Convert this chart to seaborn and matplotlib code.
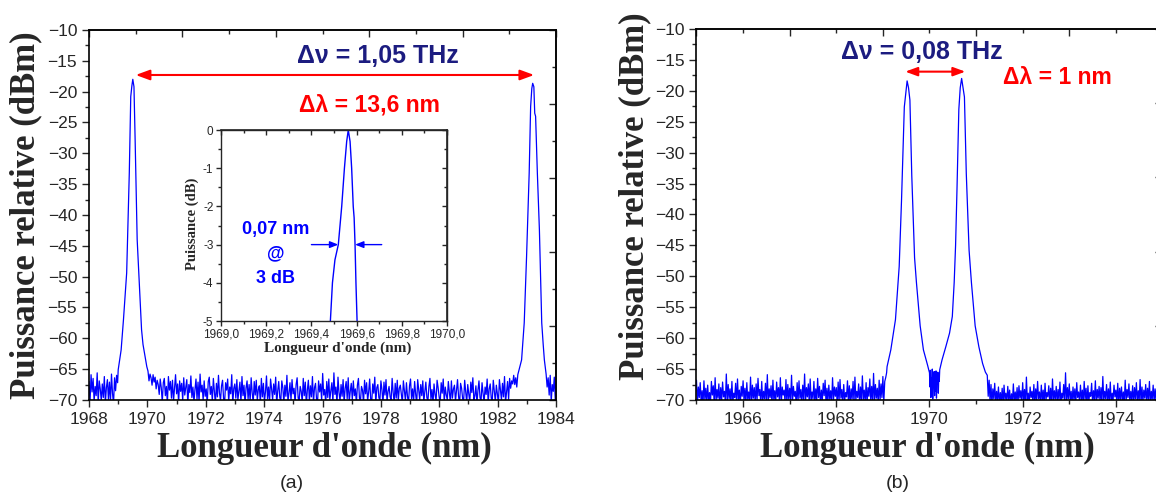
import numpy as np
import pandas as pd
import matplotlib
matplotlib.use("Agg")
import matplotlib.pyplot as plt
import seaborn as sns
from matplotlib.ticker import MultipleLocator, FixedLocator, FuncFormatter

# ---------------- data ----------------
# Panel (a): two lines 13.6 nm apart
a_noise_left = [-67.0, -70.4, -65.9, -68.7, -66.5, -70.2, -67.8, -69.3, -65.6, -70.6,
                -66.9, -68.2, -70.1, -67.4, -69.6, -66.2, -70.5, -68.0, -66.7, -69.9,
                -67.1, -70.3, -65.8, -68.9, -70.7, -66.4, -68.5, -66.0, -67.2]   # 1968.00 .. step 0.035
a_peak1_x = [1969.00, 1969.10, 1969.18, 1969.29, 1969.38, 1969.43, 1969.47, 1969.50,
             1969.54, 1969.58, 1969.65, 1969.75, 1969.80, 1969.85, 1969.90, 1969.98]
a_peak1_y = [-65.1, -61.9, -57.0, -49.4, -33.2, -20.8, -19.0, -18.0,
             -19.2, -27.8, -44.0, -53.8, -58.6, -61.0, -62.4, -64.6]
a_noise_mid = [
    -65.3, -66.9, -65.8, -66.4, -67.6, -65.9, -67.1, -66.3, -68.2, -66.8, -67.5, -69.1, -66.6, -68.0, -70.4,
    -67.2, -66.5, -69.3, -67.8, -70.6, -66.2, -68.4, -67.0, -69.7, -66.8, -70.2, -68.1, -65.9, -69.0, -67.4,
    -70.5, -66.9, -68.6, -67.3, -70.1, -66.4, -69.2, -68.0, -66.7, -70.7, -67.5, -68.8, -66.1, -69.6, -67.9,
    -70.3, -68.3, -66.6, -69.9, -67.1, -70.4, -65.8, -68.7, -67.6, -70.0, -66.9, -69.4, -68.2, -70.6, -67.0,
    -66.3, -69.1, -67.8, -70.2, -66.5, -68.5, -70.7, -67.3, -69.5, -66.0, -68.9, -70.1, -67.7, -66.8, -69.8,
    -70.5, -67.2, -68.4, -66.6, -70.3, -67.9, -69.0, -65.9, -70.6, -68.1, -67.4, -69.7, -66.7, -70.0, -68.6,
    -67.1, -70.4, -66.2, -69.3, -67.6, -70.8, -68.0, -66.9, -69.9, -67.5, -70.2, -66.4, -68.8, -70.5, -67.0,
    -69.2, -66.8, -70.1, -68.3, -67.7, -70.6, -66.5, -69.5, -67.3, -70.3, -68.7, -66.1, -69.8, -67.9, -70.4,
    -66.6, -68.2, -70.0, -67.4, -69.1, -66.3, -70.7, -68.5, -67.0, -69.6, -70.2, -66.9, -68.0, -70.5, -67.6,
    -69.4, -66.0, -70.3, -68.9, -67.2, -70.1, -66.7, -69.0, -68.1, -70.6, -67.5, -66.4, -69.7, -70.0, -67.8,
    -68.6, -70.4, -66.5, -69.3, -67.1, -70.8, -68.4, -66.8, -70.2, -67.7, -69.5, -66.2, -70.5, -68.0, -67.3,
    -69.9, -70.3, -66.9, -68.7, -67.4, -70.1, -65.7, -69.2, -68.3, -70.6, -67.0, -69.6, -66.6, -70.0, -68.5,
    -67.2, -70.4, -65.6, -69.1, -67.9, -70.7, -66.3, -68.8, -70.2, -67.5, -69.4, -66.7, -70.5, -68.1, -67.0,
    -69.8, -66.4, -70.3, -68.6, -67.3, -70.0, -66.9, -69.3, -68.2, -70.6, -67.6, -66.5, -69.7, -70.1, -67.8,
    -68.4, -70.5, -66.8, -69.0, -67.2, -70.2, -68.7, -66.6, -69.9, -70.4, -67.4, -68.9, -66.3, -70.6, -68.0,
    -67.5, -69.6, -70.1, -66.9, -68.3, -70.7, -67.1, -69.2, -66.7, -70.3, -68.6, -67.8, -69.5, -70.0, -66.5,
    -68.8, -70.4, -67.3, -69.7, -66.8, -70.2, -68.1, -67.6, -69.1, -70.5, -66.9, -68.5, -70.1, -67.2, -69.4,
    -70.6, -67.7, -66.6, -69.8, -68.2, -70.3, -67.0, -69.0, -70.7, -66.7, -68.4, -70.0, -67.5, -69.3, -66.9,
    -70.4, -68.6, -67.1, -69.6, -70.2, -67.8, -66.5, -69.9, -68.3, -70.5, -67.4, -69.1, -70.1, -66.8, -68.0,
    -69.5, -70.6, -67.2, -68.9, -66.6, -70.3, -67.9, -69.2, -70.0, -67.0, -68.7, -70.4, -66.9, -69.7, -68.2,
    -67.6, -70.2, -68.5, -66.7, -69.4, -70.7, -67.3, -68.1, -69.8, -70.1, -66.8, -68.6, -70.5, -67.5, -69.0,
    -70.3, -67.1, -68.8, -66.4, -70.0, -69.3, -67.7, -70.6, -68.4, -66.9, -69.6, -70.2, -67.2, -68.9, -70.4,
    -67.9, -69.1, -66.6, -70.5, -68.2, -67.4, -69.7, -70.1, -66.8, -68.5, -70.3, -67.6, -69.0, -70.6, -66.7,
    -68.3, -70.0, -67.3, -69.5, -66.2, -70.4, -68.7, -67.0, -69.9, -66.5, -68.1, -66.9, -67.4, -66.0, -67.5,
    -66.4, -67.9, -65.9]                                                  # 1970.02 .. step 0.035
a_peak2_x = [1982.74, 1982.82, 1982.91, 1982.99, 1983.08, 1983.13, 1983.17, 1983.20,
             1983.24, 1983.27, 1983.30, 1983.36, 1983.43, 1983.51, 1983.56, 1983.60]
a_peak2_y = [-65.0, -63.5, -57.5, -46.8, -33.2, -22.4, -19.5, -18.65,
             -19.2, -23.5, -24.0, -33.2, -42.4, -57.5, -61.0, -63.5]
a_noise_right = [-65.8, -67.9, -66.4, -69.2, -66.0, -70.3, -67.5, -68.6, -66.3, -70.1, -67.2]  # 1983.66 .. step 0.035

# Inset: zoom on the first line (relative power, dB)
inset_x = [1969.482, 1969.493, 1969.504, 1969.519, 1969.534, 1969.546, 1969.556, 1969.563,
           1969.571, 1969.578, 1969.585, 1969.589, 1969.593, 1969.597, 1969.603]
inset_y = [-5.2, -4.0, -3.4, -3.0, -2.0, -1.0, -0.3, 0.0,
           -0.3, -1.0, -2.0, -2.3, -3.0, -4.0, -5.2]

# Panel (b): two lines 1 nm apart
b_noise_left = [
    -66.8, -70.5, -67.9, -69.6, -67.2, -70.3, -68.5, -70.7, -66.9, -69.9, -68.1, -70.4, -67.6, -70.1, -68.8,
    -70.6, -67.0, -69.2, -67.7, -70.5, -66.4, -70.2, -68.3, -69.7, -67.4, -70.8, -68.0, -70.1, -67.1, -69.5,
    -68.6, -70.4, -65.8, -70.2, -67.5, -69.8, -68.2, -70.6, -67.0, -70.3, -68.9, -69.6, -67.3, -70.5, -66.6,
    -70.0, -68.4, -70.7, -67.8, -69.4, -66.9, -70.2, -68.1, -70.5, -67.2, -69.9, -68.7, -70.3, -66.3, -70.6,
    -67.6, -69.7, -68.0, -70.4, -67.4, -70.1, -66.5, -69.3, -68.3, -70.6, -67.0, -70.2, -68.6, -69.8, -67.3,
    -70.5, -65.9, -70.3, -68.2, -69.6, -67.7, -70.7, -66.8, -70.0, -68.5, -70.4, -67.1, -69.5, -68.0, -70.2,
    -66.4, -70.6, -67.9, -69.2, -68.4, -70.3, -66.7, -70.5, -67.5, -69.9, -68.1, -70.1, -66.0, -70.4, -67.8,
    -69.4, -68.6, -70.7, -67.2, -70.2, -66.9, -69.7, -68.3, -70.5, -67.6, -70.0, -65.8, -70.3, -68.0, -69.5,
    -67.4, -70.6, -66.6, -70.1, -68.7, -69.8, -67.0, -70.4, -68.2, -70.2, -66.5, -69.6, -67.8, -70.5, -68.4,
    -70.1, -67.3, -69.3, -66.8, -70.6, -68.1, -70.3, -67.6, -69.9, -68.5, -70.4, -66.4, -70.0, -67.9, -69.4,
    -68.0, -70.7, -67.1, -70.2, -66.7, -69.7, -68.3, -70.5, -67.5, -70.1, -68.8, -69.5, -66.9, -70.3, -67.7,
    -70.6, -68.2, -69.8, -67.0, -70.4, -66.3, -70.0, -68.6, -69.6, -67.4, -70.5, -67.9, -70.2, -66.1, -69.9,
    -68.4, -70.3, -67.2, -70.6, -68.0, -69.4, -66.6, -70.1, -67.8, -70.4, -65.7, -70.2, -67.5, -69.7, -68.1,
    -70.5, -66.8, -70.0, -67.4, -69.6, -66.2, -70.3, -67.0, -66.4, -65.6]   # 1965.00 .. step 0.02
b_peak1_x = [1969.09, 1969.17, 1969.27, 1969.35, 1969.40, 1969.46, 1969.49, 1969.52,
             1969.55, 1969.58, 1969.62, 1969.68, 1969.72, 1969.80, 1969.87, 1969.96]
b_peak1_y = [-64.6, -61.9, -57.0, -48.4, -37.7, -22.6, -20.5, -18.4,
             -19.5, -21.5, -33.7, -47.0, -51.0, -58.0, -61.9, -64.4]
b_valley = [-65.6, -67.9, -65.2, -69.6, -66.4, -68.2, -65.0, -69.8, -66.7, -67.5, -65.4, -69.3,
            -66.1, -68.6, -65.3, -69.7, -66.8, -67.4, -65.5, -68.9, -66.2, -67.0, -65.1]  # 1970.00 .. step 0.01
b_peak2_x = [1970.27, 1970.35, 1970.43, 1970.49, 1970.53, 1970.56, 1970.59, 1970.63, 1970.66,
             1970.69, 1970.72, 1970.75, 1970.79, 1970.85, 1970.90, 1970.98, 1971.06, 1971.14, 1971.20]
b_peak2_y = [-63.5, -61.4, -59.2, -56.5, -51.0, -45.0, -36.0, -23.0, -19.5,
             -18.0, -19.5, -21.0, -33.4, -45.8, -51.0, -58.0, -61.4, -64.1, -65.5]
b_noise_right = [
    -66.0, -69.4, -66.8, -70.3, -67.5, -70.6, -68.2, -69.8, -67.3, -70.4, -68.6, -70.1, -67.9, -70.5, -68.8,
    -70.2, -68.1, -70.7, -67.6, -69.9, -68.9, -70.4, -67.8, -70.0, -68.4, -70.6, -69.0, -70.3, -67.4, -70.5,
    -68.7, -70.1, -68.0, -70.6, -67.7, -69.7, -68.5, -70.4, -67.2, -70.2, -68.3, -70.7, -66.3, -70.0, -68.9,
    -70.5, -67.9, -69.6, -68.6, -70.3, -67.5, -70.6, -68.2, -70.1, -67.0, -69.8, -68.7, -70.4, -67.6, -70.2,
    -68.4, -70.6, -67.3, -70.0, -68.8, -69.5, -67.7, -70.3, -68.1, -70.7, -66.6, -70.2, -68.5, -69.9, -67.8,
    -70.4, -68.3, -70.1, -67.1, -70.6, -68.9, -69.7, -67.5, -70.3, -65.6, -70.5, -68.0, -69.8, -67.4, -70.2,
    -68.6, -70.4, -67.9, -70.0, -68.2, -70.6, -67.2, -69.6, -68.7, -70.3, -67.6, -70.1, -68.4, -70.5, -67.0,
    -69.9, -68.1, -70.7, -67.7, -70.2, -68.8, -69.4, -67.3, -70.4, -68.5, -70.0, -66.9, -70.6, -68.3, -69.7,
    -67.8, -70.3, -68.0, -70.5, -66.2, -70.1, -68.6, -69.8, -67.5, -70.4, -68.2, -70.2, -67.1, -70.6, -68.9,
    -70.0, -67.6, -69.5, -68.4, -70.3, -67.3, -70.7, -68.1, -69.9, -67.9, -70.2, -68.7, -70.5, -66.8, -70.1,
    -68.3, -69.6, -67.4, -70.4, -68.6, -70.0, -67.7, -70.6, -68.0, -69.8, -67.2, -70.3, -68.5, -70.1, -66.7,
    -70.5, -67.9, -70.2, -68.4, -69.7, -67.5, -70.4, -68.1, -70.0, -67.0, -70.6, -68.6, -69.9, -67.6, -70.3,
    -68.2, -70.1, -67.3, -70.5, -68.8, -69.6, -66.9, -70.2, -67.8]      # 1971.24 .. step 0.02

# ---------------- assemble spectra ----------------
def grid(start, step, vals):
    return list(start + step * np.arange(len(vals)))

a_x = (grid(1968.00, 0.035, a_noise_left) + a_peak1_x + grid(1970.02, 0.035, a_noise_mid)
       + a_peak2_x + grid(1983.66, 0.035, a_noise_right))
a_y = a_noise_left + a_peak1_y + a_noise_mid + a_peak2_y + a_noise_right
b_x = (grid(1965.00, 0.02, b_noise_left) + b_peak1_x + grid(1970.00, 0.01, b_valley)
       + b_peak2_x + grid(1971.24, 0.02, b_noise_right))
b_y = b_noise_left + b_peak1_y + b_valley + b_peak2_y + b_noise_right

df_a = pd.DataFrame({"wl": a_x, "p": a_y})
df_b = pd.DataFrame({"wl": b_x, "p": b_y})
df_in = pd.DataFrame({"wl": inset_x, "p": inset_y})

# ---------------- style ----------------
sns.set_style("ticks")
plt.rcParams["font.family"] = ["Liberation Sans", "DejaVu Sans"]
plt.rcParams["axes.linewidth"] = 1.2
plt.rcParams["xtick.major.width"] = 1.0
plt.rcParams["ytick.major.width"] = 1.0
plt.rcParams["xtick.minor.width"] = 1.0
plt.rcParams["ytick.minor.width"] = 1.0

BLUE = "#0000ff"
NAVY = "#1c1c80"
RED = "#ff0000"
SERIF = "Liberation Serif"

fig = plt.figure(figsize=(11.56, 4.97), dpi=100)
ax_a = fig.add_axes([0.0770, 0.1952, 0.4040, 0.7445])
ax_b = fig.add_axes([0.6025, 0.1952, 0.4031, 0.7465])


def style_main(ax, xlim, xmaj, top_major, top_minor):
    ax.set_xlim(*xlim)
    ax.set_ylim(-70, -10)
    ax.xaxis.set_major_locator(MultipleLocator(xmaj))
    ax.xaxis.set_minor_locator(MultipleLocator(xmaj / 2))
    ax.yaxis.set_major_locator(MultipleLocator(5))
    ax.yaxis.set_minor_locator(MultipleLocator(2.5))
    ax.tick_params(which="major", direction="out", length=5, labelsize=12.5, pad=3.5,
                   top=False, right=False)
    ax.tick_params(which="minor", direction="out", length=3, top=False, right=False)
    for s in ax.spines.values():
        s.set_visible(True)
        s.set_color("black")
    top = ax.secondary_xaxis("top")
    top.xaxis.set_major_locator(FixedLocator(top_major))
    top.xaxis.set_minor_locator(FixedLocator(top_minor))
    top.tick_params(which="major", direction="in", length=5, labeltop=False)
    top.tick_params(which="minor", direction="in", length=3)
    right = ax.secondary_yaxis("right")
    right.yaxis.set_major_locator(FixedLocator(np.arange(-70, -9, 12)))
    right.yaxis.set_minor_locator(FixedLocator(np.arange(-64, -9, 12)))
    right.tick_params(which="major", direction="in", length=5, labelright=False)
    right.tick_params(which="minor", direction="in", length=3)


# ---------------- panel (a) ----------------
sns.lineplot(data=df_a, x="wl", y="p", ax=ax_a, sort=False, estimator=None,
             color=BLUE, linewidth=0.9)
style_main(ax_a, (1968, 1984), 2,
           np.arange(1968, 1984.01, 3.2), np.arange(1969.6, 1984, 3.2))
ax_a.set_xlabel("Longueur d'onde (nm)", fontfamily=SERIF, fontweight="bold", fontsize=25)
ax_a.set_ylabel("Puissance relative (dBm)", fontfamily=SERIF, fontweight="bold", fontsize=25)
ax_a.xaxis.set_label_coords(0.503, -0.132)
ax_a.xaxis.label.set_va("center")
ax_a.yaxis.set_label_coords(-0.135, 0.5)
ax_a.yaxis.label.set_va("center")

ax_a.annotate("", xy=(1983.25, -17.3), xytext=(1969.6, -17.3),
              arrowprops=dict(arrowstyle="<|-|>,head_length=0.6,head_width=0.22",
                              color=RED, lw=1.5, mutation_scale=14, shrinkA=0, shrinkB=0))
ax_a.text(1977.9, -14.3, "Δν = 1,05 THz", color=NAVY, fontsize=18, fontweight="bold",
          ha="center", va="center")
ax_a.text(1977.6, -22.2, "Δλ = 13,6 nm", color=RED, fontsize=16.5, fontweight="bold",
          ha="center", va="center")

# ---------------- inset ----------------
ax_in = fig.add_axes([0.1912, 0.3541, 0.1955, 0.3843])
ax_in.set_facecolor("white")
sns.lineplot(data=df_in, x="wl", y="p", ax=ax_in, sort=False, estimator=None,
             color=BLUE, linewidth=1.0)
ax_in.set_xlim(1969.0, 1970.0)
ax_in.set_ylim(-5, 0)
ax_in.xaxis.set_major_locator(MultipleLocator(0.2))
ax_in.xaxis.set_minor_locator(MultipleLocator(0.1))
ax_in.yaxis.set_major_locator(MultipleLocator(1))
ax_in.yaxis.set_minor_locator(MultipleLocator(0.5))
ax_in.xaxis.set_major_formatter(FuncFormatter(lambda v, p: f"{v:.1f}".replace(".", ",")))
ax_in.yaxis.set_major_formatter(FuncFormatter(lambda v, p: f"{v:.0f}"))
ax_in.tick_params(which="major", direction="out", length=3.5, labelsize=8.5, pad=2,
                  top=False, right=False)
ax_in.tick_params(which="minor", direction="out", length=2, top=False, right=False)
for s in ax_in.spines.values():
    s.set_visible(True)
    s.set_linewidth(1.0)
in_top = ax_in.secondary_xaxis("top")
in_top.xaxis.set_major_locator(MultipleLocator(0.2))
in_top.xaxis.set_minor_locator(MultipleLocator(0.1))
in_top.tick_params(which="major", direction="in", length=3.5, labeltop=False)
in_top.tick_params(which="minor", direction="in", length=2)
in_right = ax_in.secondary_yaxis("right")
in_right.yaxis.set_major_locator(MultipleLocator(1))
in_right.yaxis.set_minor_locator(MultipleLocator(0.5))
in_right.tick_params(which="major", direction="in", length=3.5, labelright=False)
in_right.tick_params(which="minor", direction="in", length=2)
ax_in.set_xlabel("Longueur d'onde (nm)", fontfamily=SERIF, fontweight="bold", fontsize=11)
ax_in.set_ylabel("Puissance (dB)", fontfamily=SERIF, fontweight="bold", fontsize=10.5)
ax_in.xaxis.set_label_coords(0.515, -0.141)
ax_in.xaxis.label.set_va("center")
ax_in.yaxis.set_label_coords(-0.126, 0.51)
ax_in.yaxis.label.set_va("center")

ax_in.annotate("", xy=(1969.519, -3.0), xytext=(1969.40, -3.0),
               arrowprops=dict(arrowstyle="-|>,head_length=0.5,head_width=0.2",
                               color=BLUE, lw=1.0, mutation_scale=10, shrinkA=0, shrinkB=0))
ax_in.annotate("", xy=(1969.593, -3.0), xytext=(1969.711, -3.0),
               arrowprops=dict(arrowstyle="-|>,head_length=0.5,head_width=0.2",
                               color=BLUE, lw=1.0, mutation_scale=10, shrinkA=0, shrinkB=0))
ax_in.text(1969.24, -2.6, "0,07 nm", color=BLUE, fontsize=13, fontweight="bold",
           ha="center", va="center")
ax_in.text(1969.24, -3.25, "@", color=BLUE, fontsize=13, fontweight="bold",
           ha="center", va="center")
ax_in.text(1969.24, -3.9, "3 dB", color=BLUE, fontsize=13, fontweight="bold",
           ha="center", va="center")

# ---------------- panel (b) ----------------
sns.lineplot(data=df_b, x="wl", y="p", ax=ax_b, sort=False, estimator=None,
             color=BLUE, linewidth=0.9)
style_main(ax_b, (1965, 1975), 2,
           np.arange(1965, 1975.01, 2), np.arange(1966, 1975, 2))
ax_b.xaxis.set_major_locator(FixedLocator(np.arange(1966, 1975, 2)))
ax_b.xaxis.set_minor_locator(FixedLocator(np.arange(1965, 1975.01, 2)))
ax_b.set_xlabel("Longueur d'onde (nm)", fontfamily=SERIF, fontweight="bold", fontsize=25)
ax_b.set_ylabel("Puissance relative (dBm)", fontfamily=SERIF, fontweight="bold", fontsize=25)
ax_b.xaxis.set_label_coords(0.495, -0.132)
ax_b.xaxis.label.set_va("center")
ax_b.yaxis.set_label_coords(-0.132, 0.55)
ax_b.yaxis.label.set_va("center")

ax_b.annotate("", xy=(1970.77, -16.9), xytext=(1969.48, -16.9),
              arrowprops=dict(arrowstyle="<|-|>,head_length=0.6,head_width=0.22",
                              color=RED, lw=1.5, mutation_scale=12, shrinkA=0, shrinkB=0))
ax_b.text(1969.84, -13.7, "Δν = 0,08 THz", color=NAVY, fontsize=18, fontweight="bold",
          ha="center", va="center")
ax_b.text(1972.74, -17.8, "Δλ = 1 nm", color=RED, fontsize=16.5, fontweight="bold",
          ha="center", va="center")

fig.text(292 / 1156, 1 - 483 / 497, "(a)", fontsize=14, ha="center", va="center")
fig.text(898 / 1156, 1 - 483 / 497, "(b)", fontsize=14, ha="center", va="center")

fig.savefig("out.png", dpi=100)
